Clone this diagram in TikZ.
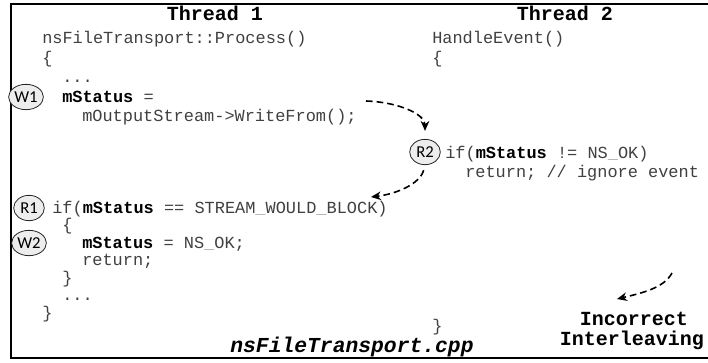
\documentclass[tikz,border=0pt]{standalone}
\usepackage{fontspec}
\setsansfont{Carlito}
\newfontfamily\codefont{Liberation Mono}
\usetikzlibrary{arrows.meta,shapes.geometric}

% bold variable name and faint underscore used in the listing
\newcommand\mstat{\textbf{\color{black}mStatus}}
\newcommand\usc{{\color{black!35}\_}}

\begin{document}
\begin{tikzpicture}[x=0.75pt,y=-0.75pt,
  code/.style={font=\codefont\fontsize{12.7}{14}\selectfont, text=black!75,
               anchor=base west, inner sep=0pt},
  head/.style={font=\codefont\bfseries\fontsize{15}{16}\selectfont,
               anchor=base, inner sep=0pt},
  tag/.style={ellipse, draw=black!85, line width=0.6pt, fill=black!7,
              minimum width=23pt, minimum height=19pt, inner sep=0.5pt,
              font=\sffamily\fontsize{12.5}{13}\selectfont},
  flow/.style={line width=1.2pt, dash pattern=on 5pt off 3pt,
               -{Stealth[length=7.5pt,width=6.5pt]}}
]
\useasboundingbox (0,0) rectangle (708,362);

% frame, open on the right
\draw[line width=1.1pt] (708,4) -- (11,4) -- (11,358) -- (708,358);

% headings
\node[head] (t1) at (215,20) {Thread 1};
\node[head] (t2) at (565,20) {Thread 2};

% thread 1 listing
\node[code] (p0) at (42,43)  {nsFileTransport::Process()};
\node[code] (p1) at (42,63)  {\{};
\node[code] (p2) at (62,82)  {...};
\node[code] (p3) at (62,102) {\mstat{} =};
\node[code] (p4) at (82,121) {mOutputStream->WriteFrom();};
\node[code] (p5) at (52,213) {if(\mstat{} == STREAM\usc WOULD\usc BLOCK)};
\node[code] (p6) at (62,230) {\{};
\node[code] (p7) at (82,248) {\mstat{} = NS\usc OK;};
\node[code] (p8) at (82,265) {return;};
\node[code] (p9) at (62,283) {\}};
\node[code] (p10) at (62,300) {...};
\node[code] (p11) at (42,318) {\}};

% thread 2 listing
\node[code] (q0) at (432,43)  {HandleEvent()};
\node[code] (q1) at (432,63)  {\{};
\node[code] (q2) at (445,158) {if(\mstat{} != NS\usc OK)};
\node[code] (q3) at (465,177) {return; // ignore event};
\node[code] (q4) at (432,331) {\}};

% access labels
\node[tag] (w1) at (26,97)  {W1};
\node[tag] (r2) at (425,152) {R2};
\node[tag] (r1) at (29,208) {R1};
\node[tag] (w2) at (29,243) {W2};

% file name and legend
\node[font=\codefont\bfseries\itshape\fontsize{16}{17}\selectfont,
      anchor=base, inner sep=0pt] (file) at (352,352) {nsFileTransport.cpp};
\node[head] (lg1) at (634,325) {Incorrect};
\node[head] (lg2) at (632,345) {Interleaving};

% interleaving arrows
\coordinate (a1) at (366,101);
\coordinate (a2) at (371,197);
\coordinate (a3) at (672,273);
\coordinate (a4) at (617,299);
\draw[flow, shorten >=6pt] (a1) .. controls (398,102) and (425,114) .. (r2.north);
\draw[flow, shorten <=4pt] (r2.south) .. controls (420,184) and (396,194) .. (a2);
\draw[flow] (a3) .. controls (664,288) and (642,293) .. (a4);
\end{tikzpicture}
\end{document}
